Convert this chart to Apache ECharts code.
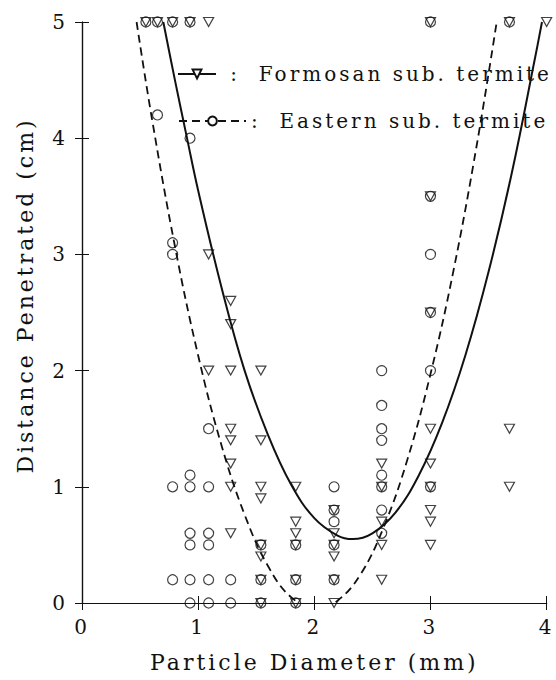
<!DOCTYPE html>
<html>
<head>
<meta charset="utf-8">
<script src="https://cdn.jsdelivr.net/npm/echarts@6/dist/echarts.min.js"></script>
<style>
  html, body { margin: 0; padding: 0; background: #fff; }
  #chart { width: 556px; height: 680px; }
  /* the scanned figure uses widely tracked lettering */
  #chart svg text { letter-spacing: 3px; }
</style>
</head>
<body>
<div id="chart"></div>
<script>
// particle diameter columns (mm)
const diameters = [0.55, 0.65, 0.78, 0.93, 1.09, 1.28, 1.54, 1.84, 2.17, 2.58, 3.0, 3.68, 4.0];

// distance penetrated (cm), one list per diameter column
const formosanDepths = [
  [5], [5], [5], [5],
  [5, 3.0, 2.0],
  [2.6, 2.4, 2.0, 1.5, 1.4, 1.2, 1.0, 0.6],
  [2.0, 1.4, 1.0, 0.9, 0.5, 0.4, 0.2, 0],
  [1.0, 0.7, 0.6, 0.5, 0.2, 0],
  [0.8, 0.6, 0.5, 0.4, 0.2, 0],
  [1.2, 1.0, 0.7, 0.5, 0.2],
  [5, 3.5, 2.5, 1.5, 1.2, 1.0, 0.8, 0.7, 0.5],
  [5, 1.5, 1.0],
  [5]
];
const easternDepths = [
  [5],
  [5, 4.2],
  [5, 3.1, 3.0, 1.0, 0.2],
  [5, 4.0, 1.1, 1.0, 0.6, 0.5, 0.2, 0],
  [1.5, 1.0, 0.6, 0.5, 0.2, 0],
  [0.2, 0],
  [0.5, 0.2, 0],
  [0.5, 0.2, 0],
  [1.0, 0.8, 0.7, 0.5, 0.2],
  [2.0, 1.7, 1.5, 1.4, 1.1, 1.0, 0.8, 0.6],
  [5, 3.5, 3.0, 2.5, 2.0, 1.0],
  [5],
  []
];

// fitted curves
const formosanFitX = [0.70, 0.8, 0.9, 1.0, 1.2, 1.4, 1.6, 1.8, 2.0, 2.2, 2.33, 2.5, 2.7, 2.9, 3.1, 3.3, 3.5, 3.7, 3.9, 3.96];
const formosanFitY = [5.0, 4.5, 4.02, 3.55, 2.72, 2.0, 1.45, 1.02, 0.73, 0.58, 0.55, 0.6, 0.78, 1.1, 1.55, 2.13, 2.85, 3.7, 4.69, 5.0];
const easternFitX = [0.47, 0.6, 0.8, 1.0, 1.2, 1.4, 1.6, 1.8, 2.02, 2.2, 2.4, 2.6, 2.8, 3.0, 3.2, 3.4, 3.57];
const easternFitY = [5.0, 4.18, 3.07, 2.13, 1.36, 0.76, 0.32, 0.05, -0.05, 0.02, 0.25, 0.66, 1.23, 1.97, 2.87, 3.95, 5.0];

const tickLabels = ['0', '1', '2', '3', '4', '5'];

function toPoints(cols) {
  let pts = [];
  cols.forEach((ys, i) => ys.forEach(y => pts.push([diameters[i], y])));
  return pts;
}
function zip(xs, ys) {
  return xs.map((x, i) => [x, ys[i]]);
}

const font = 'DejaVu Serif';
const ink = '#111';

let chart = echarts.init(document.getElementById('chart'), null, { renderer: 'svg' });

const axisCommon = {
  type: 'value',
  min: 0,
  interval: 1,
  axisLine: { show: true, lineStyle: { color: ink, width: 1.2 } },
  axisTick: { show: true, inside: true, length: 7, lineStyle: { color: ink, width: 1 } },
  splitLine: { show: false }
};

let option = {
  animation: false,
  backgroundColor: '#fff',
  textStyle: { fontFamily: font, color: ink },
  grid: { left: 82, right: 6, top: 22, bottom: 77 },
  legend: [
    {
      data: ['Formosan sub. termite'],
      left: 177, top: 64, padding: 0,
      itemWidth: 38, itemHeight: 11,
      selectedMode: false,
      formatter: name => ' :  ' + name,
      textStyle: { fontFamily: font, fontSize: 20, color: ink }
    },
    {
      data: ['Eastern sub. termite'],
      left: 178, top: 111, padding: 0,
      itemWidth: 67, itemHeight: 11,
      selectedMode: false,
      formatter: name => ':  ' + name,
      textStyle: { fontFamily: font, fontSize: 20, color: ink }
    }
  ],
  xAxis: [
    Object.assign({}, axisCommon, {
      max: 4,
      position: 'bottom',
      name: 'Particle Diameter (mm)',
      nameLocation: 'middle',
      nameGap: 48,
      nameTextStyle: { fontFamily: font, fontSize: 22, color: ink },
      axisLabel: {
        margin: 14, fontFamily: font, fontSize: 20, color: ink,
        formatter: v => tickLabels[v]
      }
    }),
    Object.assign({}, axisCommon, {
      max: 4,
      position: 'top',
      axisLabel: { show: false }
    })
  ],
  yAxis: [
    Object.assign({}, axisCommon, {
      max: 5,
      position: 'left',
      name: 'Distance Penetrated (cm)',
      nameLocation: 'middle',
      nameGap: 46,
      nameTextStyle: { fontFamily: font, fontSize: 22, color: ink, padding: [0, 0, 0, 34] },
      axisLabel: {
        margin: 14, fontFamily: font, fontSize: 20, color: ink,
        formatter: v => tickLabels[v]
      }
    }),
    Object.assign({}, axisCommon, {
      max: 5,
      position: 'right',
      axisLabel: { show: false }
    })
  ],
  series: [
    {
      name: 'Formosan sub. termite',
      type: 'line',
      data: zip(formosanFitX, formosanFitY),
      smooth: 0.4,
      showSymbol: false,
      symbol: 'emptyTriangle',
      symbolRotate: 180,
      clip: true,
      color: ink,
      lineStyle: { color: ink, width: 2, type: 'solid' },
      silent: true,
      z: 2
    },
    {
      name: 'Eastern sub. termite',
      type: 'line',
      data: zip(easternFitX, easternFitY),
      smooth: 0.4,
      showSymbol: false,
      symbol: 'emptyCircle',
      clip: true,
      color: ink,
      lineStyle: { color: ink, width: 1.8, type: [8, 5] },
      silent: true,
      z: 2
    },
    {
      name: 'Formosan data',
      type: 'scatter',
      data: toPoints(formosanDepths),
      symbol: 'triangle',
      symbolRotate: 180,
      symbolSize: [10, 9],
      clip: false,
      itemStyle: { color: 'rgba(0,0,0,0)', borderColor: ink, borderWidth: 1.2 },
      z: 3
    },
    {
      name: 'Eastern data',
      type: 'scatter',
      data: toPoints(easternDepths),
      symbol: 'circle',
      symbolSize: 10,
      clip: false,
      itemStyle: { color: 'rgba(0,0,0,0)', borderColor: ink, borderWidth: 1.2 },
      z: 3
    }
  ]
};

chart.setOption(option);
</script>
</body>
</html>
